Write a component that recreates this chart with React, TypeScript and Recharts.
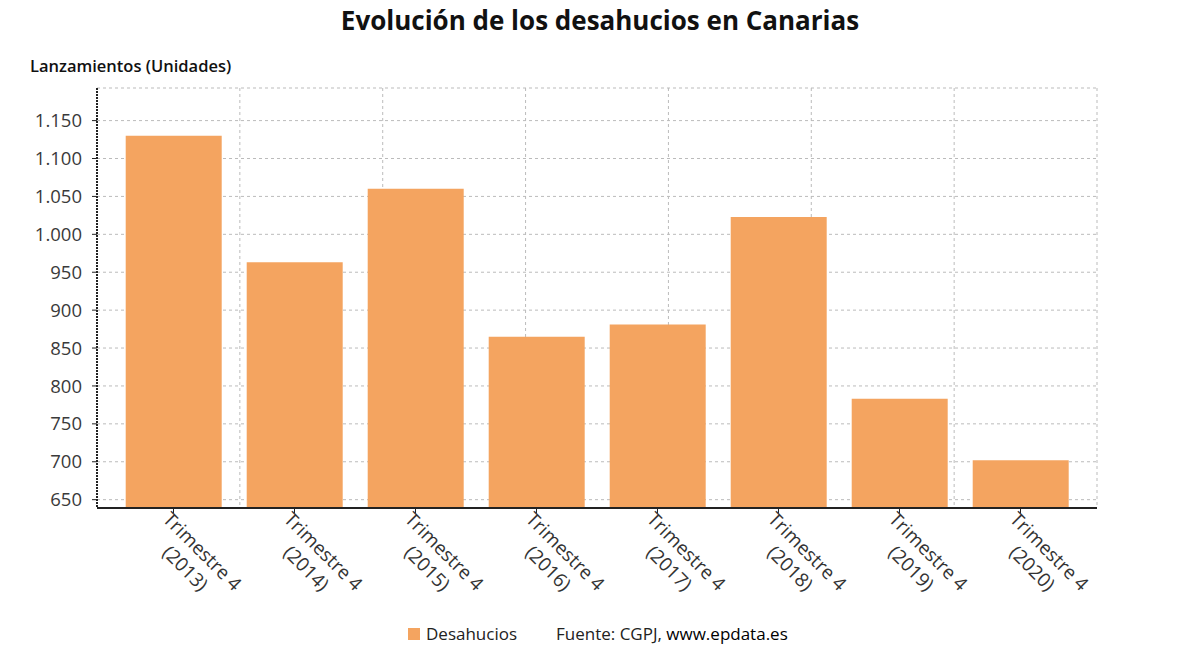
import React from 'react';
import { BarChart, Bar, XAxis, YAxis, CartesianGrid } from 'recharts';

const categories = ['2013', '2014', '2015', '2016', '2017', '2018', '2019', '2020'];
const desahucios = [1130, 963, 1060, 865, 881, 1023, 783, 702];
const yTicks = [650, 700, 750, 800, 850, 900, 950, 1000, 1050, 1100, 1150];

const data = categories.map((c, i) => ({ name: c, value: desahucios[i] }));

const FONT = '"Open Sans", "Noto Sans", sans-serif';
const BAR_COLOR = '#F4A460';
const GRID_DIVISIONS = 7;

const fmt = (v: number) => String(v).replace(/\B(?=(\d{3})+(?!\d))/g, '.');

const XTick = (props: any) => {
  const { x, y, payload } = props;
  return (
    <g transform={`translate(${x},${y}) rotate(45)`}>
      <text x={46} y={0} textAnchor="middle" fill="#333" fontSize={19} fontFamily={FONT}>
        <tspan x={46} dy={12}>Trimestre 4</tspan>
        <tspan x={46} dy={24}>({payload.value})</tspan>
      </text>
    </g>
  );
};

export default function App() {
  return (
    <div style={{ position: 'absolute', left: 0, top: 0, width: 1200, height: 650, background: '#fff', fontFamily: FONT }}>
      <div style={{ position: 'absolute', left: 0, top: 2, width: 1200, textAlign: 'center', fontSize: 26, fontWeight: 700, color: '#111' }}>
        Evolución de los desahucios en Canarias
      </div>
      <div style={{ position: 'absolute', left: 30, top: 54, fontSize: 16.5, fontWeight: 600, color: '#111' }}>
        Lanzamientos (Unidades)
      </div>
      <BarChart
        width={1200}
        height={650}
        data={data}
        margin={{ top: 88, right: 103, bottom: 42, left: 7 }}
        barCategoryGap="10.5%"
      >
        <CartesianGrid
          stroke="#bbb"
          strokeDasharray="3 3"
          verticalCoordinatesGenerator={(p: any) =>
            Array.from({ length: GRID_DIVISIONS }, (_, i) => p.offset.left + ((i + 1) * p.offset.width) / GRID_DIVISIONS)
          }
        />
        <YAxis
          width={90}
          domain={[639, 1193]}
          ticks={yTicks}
          allowDataOverflow
          tickFormatter={fmt}
          axisLine={{ stroke: '#222', strokeWidth: 2, strokeDasharray: '2 1' }}
          tickLine={{ stroke: '#222' }}
          tickSize={5}
          tickMargin={10}
          tick={{ fill: '#3a3a3a', fontSize: 18.5, fontWeight: 500, fontFamily: FONT }}
        />
        <XAxis
          dataKey="name"
          height={100}
          interval={0}
          padding={{ left: 16, right: 16 }}
          axisLine={{ stroke: '#222', strokeWidth: 2 }}
          tickLine={{ stroke: '#222' }}
          tickSize={5}
          tick={<XTick />}
        />
        <Bar dataKey="value" fill={BAR_COLOR} isAnimationActive={false} />
      </BarChart>
      <div style={{ position: 'absolute', left: 408, top: 628, width: 12, height: 12, background: BAR_COLOR }} />
      <div style={{ position: 'absolute', left: 426, top: 622, fontSize: 17, fontWeight: 500, color: '#222' }}>Desahucios</div>
      <div style={{ position: 'absolute', left: 556, top: 622, fontSize: 17, fontWeight: 500, color: '#222' }}>
        Fuente: CGPJ, <span style={{ color: '#000' }}>www.epdata.es</span>
      </div>
    </div>
  );
}
